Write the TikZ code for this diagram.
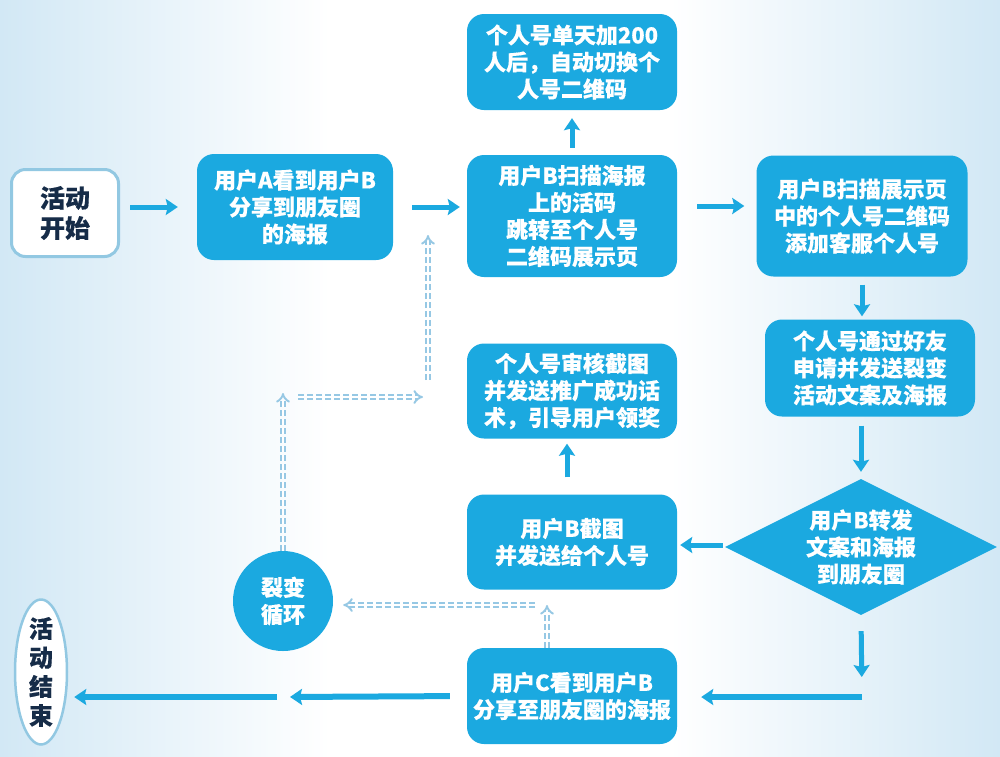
\documentclass[tikz,border=0pt]{standalone}
\usepackage{fontspec}
\setmainfont{Noto Sans CJK SC}[BoldFeatures={FakeBold=0.4}]
\usetikzlibrary{shapes.geometric, arrows.meta}

\definecolor{boxblue}{RGB}{27,169,224}
\definecolor{edgeblue}{RGB}{146,200,226}
\definecolor{dashblue}{RGB}{150,200,228}
\definecolor{bgblue}{RGB}{210,232,245}
\definecolor{navy}{RGB}{22,44,72}

\begin{document}
\begin{tikzpicture}[x=1pt, y=-1pt,
	box/.style={rectangle, rounded corners=17pt, fill=boxblue, text=white, font=\fontsize{22}{27}\selectfont\bfseries, align=center, minimum width=210pt, inner sep=0pt},
	flow/.style={draw=boxblue, line width=5pt, -{Stealth[length=12pt, width=16pt, inset=2pt]}},
	loopline/.style={draw=dashblue, line width=1.9pt, double=white, double distance=2.6pt, dash pattern=on 6pt off 3pt, -{Implies}}]
		% background
		\fill[white] (0, 0) rectangle (1000, 756);
		\shade[left color = bgblue, right color = white] (0, 0) rectangle (330, 756);
		\shade[left color = white, right color = bgblue] (670, 0) rectangle (1000, 756);
		% nodes
		\node[rectangle, rounded corners=14pt, draw=edgeblue, line width=3pt, fill=white, minimum width=107pt, minimum height=87pt, text=navy, font=\fontsize{25}{30}\selectfont\bfseries, align=center] (start) at (65, 213) {活动\\开始};
		\node[box, minimum width=196pt, minimum height=106pt] (seeA) at (295, 207) {用户A看到用户B\\分享到朋友圈\\的海报};
		\node[box, minimum height=122pt] (scan) at (572, 216) {用户B扫描海报\\上的活码\\跳转至个人号\\二维码展示页};
		\node[box, minimum height=96pt] (switch) at (572, 62) {个人号单天加200\\人后，自动切换个\\人号二维码};
		\node[box, minimum width=211pt, minimum height=121pt] (addkf) at (862, 216) {用户B扫描展示页\\中的个人号二维码\\添加客服个人号};
		\node[box, minimum height=97pt] (invite) at (870, 368) {个人号通过好友\\申请并发送裂变\\活动文案及海报};
		\node[diamond, fill=boxblue, text=white, font=\fontsize{22}{27}\selectfont\bfseries, align=center, aspect=2, inner sep=-2pt, minimum width=272pt, minimum height=136pt] (forward) at (861, 547) {用户B转发\\文案和海报\\到朋友圈};
		\node[box, minimum height=95pt] (shot) at (572, 542) {用户B截图\\并发送给个人号};
		\node[box, minimum height=95pt] (audit) at (572, 391) {个人号审核截图\\并发送推广成功话\\术，引导用户领奖};
		\node[box, minimum height=96pt] (seeC) at (572, 696) {用户C看到用户B\\分享至朋友圈的海报};
		\node[circle, fill=boxblue, minimum size=100pt, inner sep=0pt, text=white, font=\fontsize{22}{27}\selectfont\bfseries, align=center] (loop) at (283, 601) {裂变\\循环};
		\node[ellipse, draw=edgeblue, line width=2.5pt, fill=white, minimum width=52pt, minimum height=145pt, inner sep=-8pt, text=navy, font=\fontsize{24}{29}\selectfont\bfseries, align=center] (finish) at (41, 672) {活\\动\\结\\束};
		% main flow
		\draw[flow, shorten <=10pt, shorten >=19pt] (start.east |- seeA.west) -- (seeA.west);
		\draw[flow, shorten <=19pt, shorten >=7pt] (seeA.east) -- (seeA.east -| scan.west);
		\draw[flow, shorten <=20pt, shorten >=12pt] ([yshift=10pt]scan.east) -- ([yshift=10pt]addkf.west);
		\draw[flow, shorten <=7pt, shorten >=8pt] (scan.north) -- (switch.south);
		\draw[flow, shorten <=8pt, shorten >=3pt] (addkf.south) -- (addkf.south |- invite.north);
		\draw[flow, shorten <=9pt, shorten >=7pt] (forward.north |- invite.south) -- (forward.north);
		\draw[flow, shorten <=2pt, shorten >=3pt] ([yshift=2pt]forward.west) -- ([yshift=2pt]forward.west -| shot.east);
		\draw[flow, shorten <=17pt, shorten >=5pt] ([xshift=-5pt]shot.north) -- ([xshift=-5pt]audit.south);
		\coordinate (turn) at (862, 697);
		\draw[flow, shorten <=16pt, shorten >=20pt] (forward.south) -- (turn);
		\draw[flow, line width=6pt, shorten >=24pt] (turn) -- (turn -| seeC.east);
		\coordinate (gap) at (284, 697);
		\draw[flow, line width=6pt, shorten <=17pt, shorten >=6pt] (seeC.west) -- (gap);
		\draw[flow, line width=6pt, shorten <=7pt, shorten >=6pt] (gap) -- (gap -| finish.east);
		% fission loop
		\coordinate (c1) at (547, 605);
		\draw[loopline] (seeC.north -| c1) -- (c1);
		\coordinate (c2) at (535, 605);
		\draw[loopline, shorten >=10pt] (c2) -- (c2 -| loop.east);
		\coordinate (c3) at (283, 393);
		\draw[loopline] (loop.north) -- (c3);
		\coordinate (c4) at (298, 397);
		\coordinate (c5) at (423, 397);
		\draw[loopline] (c4) -- (c5);
		\coordinate (c6) at (428, 380);
		\coordinate (c7) at (428, 235);
		\draw[loopline] (c6) -- (c7);
\end{tikzpicture}
\end{document}
